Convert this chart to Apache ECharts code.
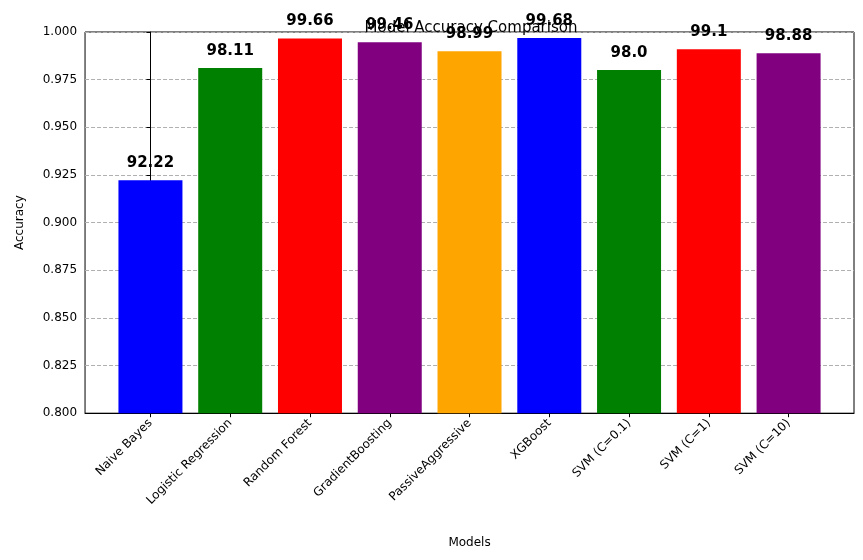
<!DOCTYPE html><html><head><script src="https://cdn.jsdelivr.net/npm/echarts@6/dist/echarts.min.js"></script></head><body style="margin:0"><div id="c" style="width:863px;height:560px"></div><script>
const categories=['Naive Bayes','Logistic Regression','Random Forest','GradientBoosting','PassiveAggressive','XGBoost','SVM (C=0.1)','SVM (C=1)','SVM (C=10)'];
const accuracy=[0.9222,0.9811,0.9966,0.9946,0.9899,0.9968,0.980,0.991,0.9888];
const labels=['92.22','98.11','99.66','99.46','98.99','99.68','98.0','99.1','98.88'];
const colors=['blue','green','red','purple','orange','blue','green','red','purple'];
const yTicks=[0.8,0.825,0.85,0.875,0.9,0.925,0.95,0.975,1.0];
const ch=echarts.init(document.getElementById('c'));
const F='DejaVu Sans';
ch.setOption({animation:false,textStyle:{fontFamily:F},
title:{text:'Model Accuracy Comparison',left:466,top:8,textAlign:'center',textStyle:{fontFamily:F,fontSize:15,fontWeight:'normal',color:'#000'}},
grid:{left:80,right:9,top:32,bottom:143,show:true,borderColor:'#000',borderWidth:1},
xAxis:{type:'value',min:-0.82,max:8.82,name:'Models',nameLocation:'middle',nameGap:118,nameTextStyle:{fontSize:12,color:'#000'},
 splitLine:{show:false},axisLine:{lineStyle:{color:'#000'}},
 axisTick:{show:true,customValues:[0,1,2,3,4,5,6,7,8],length:4,lineStyle:{color:'#000'}},
 axisLabel:{customValues:[0,1,2,3,4,5,6,7,8],rotate:45,fontSize:12,color:'#000',margin:8,formatter:v=>categories[Math.round(v)]}},
yAxis:{type:'value',min:0.8,max:1.0,interval:0.025,name:'Accuracy',nameLocation:'middle',nameGap:52,nameTextStyle:{fontSize:12,color:'#000'},
 axisLine:{show:true,lineStyle:{color:'#000'}},axisTick:{show:true,length:4,lineStyle:{color:'#000'}},
 axisLabel:{fontSize:12,color:'#000',formatter:v=>v.toFixed(3)},
 splitLine:{show:true,lineStyle:{type:'dashed',color:'#b0b0b0'}}},
series:[{type:'bar',barWidth:64,data:accuracy.map((v,i)=>({value:[i,v],itemStyle:{color:colors[i]}})),
 label:{show:true,position:'top',distance:1,fontSize:15,fontWeight:'bold',color:'#000',formatter:p=>labels[p.dataIndex]}}]
});
</script></body></html>
